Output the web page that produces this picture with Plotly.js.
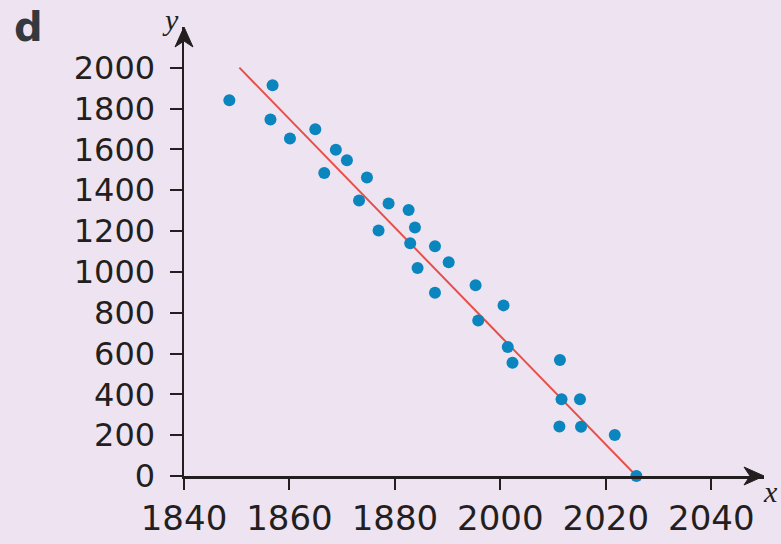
<!DOCTYPE html>
<html>
<head>
<meta charset="utf-8">
<script src="https://cdn.plot.ly/plotly-3.0.1.min.js"></script>
<style>
  html, body { margin: 0; padding: 0; background: #EEE3F0; }
  #chart { width: 781px; height: 544px; }
</style>
</head>
<body>
<div id="chart"></div>
<script>
// Data (x in axis positions; tick labels as printed)
const pointX = [1848.6, 1856.8, 1856.4, 1860.1, 1864.9, 1868.8, 1870.9, 1866.6, 1874.7, 1873.2,
                1878.8, 1882.6, 1883.8, 1876.9, 1882.9, 1887.6, 1890.2, 1884.3, 1887.6, 1895.3,
                1900.6, 1895.8, 1901.4, 1902.3, 1911.3, 1911.6, 1915.1, 1911.2, 1915.3, 1921.7, 1925.8];
const pointY = [1841, 1915, 1747, 1654, 1699, 1598, 1547, 1485, 1463, 1350,
                1335, 1303, 1218, 1203, 1140, 1126, 1047, 1019, 898, 935,
                836, 762, 632, 555, 568, 376, 376, 243, 241, 201, 0];
const fitX = [1850.5, 1925.8];
const fitY = [2001, 0];
const xTickVals = [1840, 1860, 1880, 1900, 1920, 1940];
const xTickText = ['1840', '1860', '1880', '2000', '2020', '2040'];
const yTickVals = [0, 200, 400, 600, 800, 1000, 1200, 1400, 1600, 1800, 2000];
const yTickText = ['0', '200', '400', '600', '800', '1000', '1200', '1400', '1600', '1800', '2000'];

const ink = '#231F20';
const traces = [
  {
    x: fitX, y: fitY, type: 'scatter', mode: 'lines',
    line: { color: '#E6504A', width: 2 },
    hoverinfo: 'skip', showlegend: false, cliponaxis: false
  },
  {
    x: pointX, y: pointY, type: 'scatter', mode: 'markers',
    marker: { color: '#0B85BD', size: 12 },
    showlegend: false, cliponaxis: false
  }
];

const layout = {
  width: 781, height: 544,
  paper_bgcolor: '#EEE3F0', plot_bgcolor: '#EEE3F0',
  margin: { l: 184, r: 17, t: 27, b: 68, pad: 0 },
  showlegend: false,
  xaxis: {
    range: [1840, 1950], showgrid: false, zeroline: false,
    showline: true, linecolor: ink, linewidth: 2.5,
    ticks: 'outside', ticklen: 11, tickwidth: 2, tickcolor: ink,
    tickvals: xTickVals, ticktext: xTickText,
    tickfont: { family: 'DejaVu Sans', size: 34, color: ink },
    automargin: false, fixedrange: true
  },
  yaxis: {
    range: [0, 2200], showgrid: false, zeroline: false,
    showline: true, linecolor: ink, linewidth: 2.5,
    ticks: 'outside', ticklen: 12, tickwidth: 2, tickcolor: ink,
    tickvals: yTickVals, ticktext: yTickText, ticklabelstandoff: 8,
    tickfont: { family: 'DejaVu Sans', size: 32, color: ink },
    automargin: false, fixedrange: true
  },
  shapes: [
    { type: 'path', xref: 'paper', yref: 'paper',
      path: 'M 1 0 L 0.9655 0.02 L 0.9759 0 L 0.9655 -0.02 Z',
      fillcolor: ink, line: { color: ink, width: 1 } },
    { type: 'path', xref: 'paper', yref: 'paper',
      path: 'M 0 1 L -0.0155 0.9555 L 0 0.9688 L 0.0155 0.9555 Z',
      fillcolor: ink, line: { color: ink, width: 1 } }
  ],
  annotations: [
    { x: 0, y: 1, xref: 'paper', yref: 'paper', xanchor: 'left', yanchor: 'top',
      xshift: -172, yshift: 25, showarrow: false, text: '<b>d</b>',
      font: { family: 'DejaVu Sans', size: 40, color: '#33393F' } },
    { x: 0, y: 1, xref: 'paper', yref: 'paper', xanchor: 'center', yanchor: 'middle',
      xshift: -14, yshift: 8, showarrow: false, text: '<i>y</i>',
      font: { family: 'Liberation Serif', size: 30, color: ink } },
    { x: 1, y: 0, xref: 'paper', yref: 'paper', xanchor: 'center', yanchor: 'middle',
      xshift: 6, yshift: -15, showarrow: false, text: '<i>x</i>',
      font: { family: 'Liberation Serif', size: 30, color: ink } }
  ]
};

Plotly.newPlot('chart', traces, layout, { displayModeBar: false, staticPlot: true });
</script>
</body>
</html>
